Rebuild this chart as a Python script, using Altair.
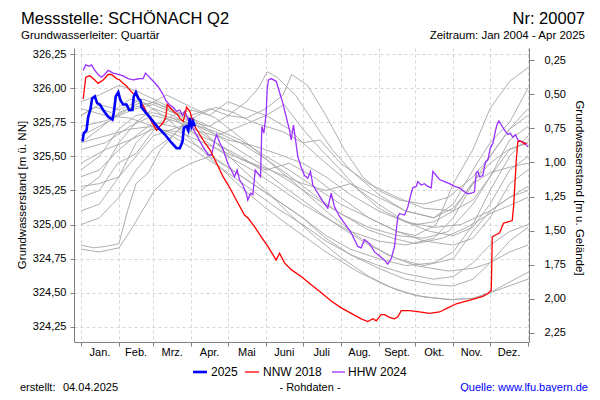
import altair as alt
import pandas as pd

GROUND = 326.456
FONT = "Liberation Sans"

MONTH_STARTS = [0, 31, 59, 90, 120, 151, 181, 212, 243, 273, 304, 334, 365]
MONTH_LABELS = ["Jan.", "Feb.", "Mrz.", "Apr.", "Mai", "Juni", "Juli", "Aug.", "Sept.", "Okt.", "Nov.", "Dez."]
LEFT_TICKS = [324.25, 324.50, 324.75, 325.00, 325.25, 325.50, 325.75, 326.00, 326.25]
RIGHT_TICKS = [0.25, 0.50, 0.75, 1.00, 1.25, 1.50, 1.75, 2.00, 2.25]

BLUE_DAYS = [1.2, 2.3, 4.5, 5.9, 7.8, 9.1, 11.3, 13.2, 15.4, 18.1, 22.2, 25.7, 26.8, 28.4, 30.4, 32.3, 34.4, 37.2,
             39.3, 42, 43.1, 44.8, 46.7, 48.6, 49.4, 52.1, 54.9, 59, 63, 68.5, 73.9, 78, 80.7, 82.9, 84, 86.2, 87.6,
             88.9, 90.2, 91.6, 92.9]
BLUE_LEVELS = [325.61, 325.67, 325.69, 325.79, 325.85, 325.925, 325.94, 325.89, 325.88, 325.84, 325.79, 325.77, 325.82,
               325.94, 325.97, 325.91, 325.88, 325.88, 325.84, 325.84, 325.94, 325.97, 325.925, 325.91, 325.86, 325.83,
               325.80, 325.755, 325.71, 325.66, 325.60, 325.56, 325.56, 325.61, 325.71, 325.72, 325.69, 325.78, 325.72,
               325.755, 325.72]

RED_DAYS = [1.8, 3.9, 7.2, 11.3, 14, 18.1, 22.2, 24.9, 29, 31.7, 34.4, 37.2, 39.9, 43.9, 46.7, 49.4, 52.1, 54.9, 57.6,
            61.7, 64.4, 67.6, 69.3, 70.4, 72.5, 75.3, 78, 80.7, 83.5, 86.2, 88.9, 90.2, 92.9, 97, 101.1, 105.2, 110.7,
            116.1, 120.2, 122.7, 128, 133.5, 136.2, 141.7, 147.2, 152.6, 159.4, 162.1, 166.2, 171.6, 179.8, 188, 196.2,
            204.3, 212.5, 220.6, 228.8, 234.2, 238.3, 241.1, 245.1, 247.8, 251.9, 256, 258.7, 261.5, 268.3, 276.4, 284.6,
            292.8, 299.5, 306.4, 314.6, 322.7, 328.1, 332.2, 335, 335.8, 337.7, 341.8, 345, 348.5, 352.1, 353.2, 355.4,
            356.7, 359.5, 362.2, 363.5]
RED_LEVELS = [325.92, 326.08, 326.09, 326.06, 326.035, 326.06, 326.10, 326.10, 326.07, 326.06, 326.035, 326.015, 325.985,
              325.95, 325.94, 325.89, 325.85, 325.80, 325.755, 325.69, 325.72, 325.755, 325.79, 325.88, 325.86, 325.83,
              325.815, 325.78, 325.755, 325.86, 325.83, 325.79, 325.72, 325.66, 325.60, 325.55, 325.45, 325.35, 325.29,
              325.25, 325.16, 325.07, 325.05, 324.985, 324.91, 324.84, 324.74, 324.79, 324.72, 324.67, 324.62, 324.56,
              324.50, 324.44, 324.39, 324.35, 324.31, 324.29, 324.31, 324.295, 324.34, 324.34, 324.32, 324.31, 324.325,
              324.37, 324.37, 324.36, 324.35, 324.36, 324.39, 324.42, 324.44, 324.46, 324.475, 324.495, 324.52, 324.91,
              324.92, 324.94, 325.01, 325.02, 325.03, 325.13, 325.47, 325.61, 325.61, 325.59, 325.60]

PURPLE_DAYS = [1.8, 3.9, 6.7, 8.6, 11.3, 14, 16.7, 19.4, 22.2, 26.3, 30.4, 34.4, 38.5, 42.6, 45.3, 48, 50.8, 52.7, 54.9,
               59, 63, 66.6, 69.3, 72, 75.3, 78, 80.7, 82.9, 84.8, 87.6, 90.2, 92.9, 97, 101.1, 103.9, 106.6, 109.3,
               110.7, 113.3, 116.1, 120.2, 122.7, 125.4, 127.5, 129.4, 132.1, 134.9, 136.2, 138.4, 140.3, 142.3, 144.4,
               146.6, 147.7, 149.3, 151.2, 152, 153.1, 155.3, 159.4, 162.1, 164.8, 167.6, 170.3, 171.6, 173.5, 175.2,
               177, 179.8, 182.5, 185.2, 187.4, 189.3, 193.4, 197.5, 201.5, 204.3, 207, 211.1, 215.2, 220.6, 226, 228.8,
               231.5, 235.6, 239.7, 243.8, 247.8, 250.5, 253.3, 256, 258.7, 260.1, 264.2, 266.9, 269.6, 271, 273.7,
               275, 277.8, 280.5, 283.2, 286, 287.3, 290.1, 292.8, 296.8, 300.9, 305, 309.1, 313.2, 315.9, 318.6,
               321.3, 322.7, 324, 325.4, 328.1, 330.3, 332.2, 334.2, 336.3, 338.5, 339.6, 341.2, 343.2, 345.9, 348.5,
               350.5, 352.6, 354.8, 356.7, 359.5, 362.2, 364.9]
PURPLE_LEVELS = [326.13, 326.17, 326.16, 326.17, 326.13, 326.10, 326.08, 326.10, 326.13, 326.11, 326.10, 326.09, 326.07,
                 326.06, 326.065, 326.07, 326.07, 326.11, 326.09, 326.05, 326.01, 325.96, 325.91, 325.88, 325.86, 325.83,
                 325.84, 325.80, 325.83, 325.77, 325.73, 325.68, 325.61, 325.55, 325.51, 325.51, 325.62, 325.66, 325.60,
                 325.55, 325.44, 325.40, 325.35, 325.40, 325.33, 325.29, 325.23, 325.18, 325.23, 325.22, 325.40, 325.375,
                 325.35, 325.72, 325.67, 325.815, 325.99, 326.06, 326.07, 326.05, 325.97, 325.89, 325.79, 325.69, 325.62,
                 325.73, 325.62, 325.50, 325.42, 325.36, 325.34, 325.39, 325.29, 325.23, 325.17, 325.12, 325.23, 325.13,
                 325.06, 325.01, 324.94, 324.84, 324.83, 324.89, 324.86, 324.80, 324.77, 324.74, 324.71, 324.75, 324.84,
                 325.06, 325.08, 325.07, 325.13, 325.23, 325.27, 325.28, 325.315, 325.29, 325.30, 325.28, 325.27, 325.39,
                 325.36, 325.33, 325.315, 325.30, 325.28, 325.27, 325.24, 325.225, 325.23, 325.24, 325.38, 325.39, 325.35,
                 325.36, 325.46, 325.475, 325.56, 325.595, 325.69, 325.73, 325.76, 325.73, 325.69, 325.66, 325.67, 325.64,
                 325.66, 325.62, 325.61, 325.60, 325.57]

G2004_D = [0, 12, 25, 40, 55, 70, 90, 110, 130, 151, 170, 190, 212, 235, 255, 273, 295, 315, 334, 350, 365]
G2004_L = [325.80, 325.86, 325.82, 325.92, 325.88, 325.95, 325.86, 325.78, 325.64, 325.48, 325.36, 325.22, 325.08,
           324.96, 324.90, 324.86, 324.90, 324.98, 325.08, 325.14, 325.20]
G2005_D = [0, 15, 30, 45, 60, 75, 90, 110, 130, 151, 175, 200, 225, 250, 273, 300, 320, 334, 350, 365]
G2005_L = [325.20, 325.25, 325.45, 325.52, 325.70, 325.78, 325.74, 325.68, 325.60, 325.48, 325.30, 325.10, 324.92,
           324.78, 324.70, 324.66, 324.68, 324.72, 324.80, 324.85]
G2006_D = [0, 10, 20, 31, 38, 45, 55, 65, 80, 95, 110, 125, 140, 151, 165, 181, 200, 220, 243, 265, 285, 304, 320,
           334, 350, 365]
G2006_L = [324.85, 324.83, 324.84, 324.86, 325.10, 325.30, 325.38, 325.55, 325.70, 325.80, 325.86, 325.82, 325.75,
           325.72, 325.68, 325.60, 325.45, 325.30, 325.15, 325.02, 324.95, 324.92, 324.98, 325.15, 325.40, 325.50]
G2007_D = [0, 20, 40, 59, 80, 100, 120, 140, 160, 181, 200, 220, 243, 265, 288, 304, 320, 334, 350, 365]
G2007_L = [325.55, 325.60, 325.72, 325.80, 325.75, 325.62, 325.50, 325.40, 325.28, 325.15, 325.05, 324.95, 324.88,
           324.85, 324.90, 325.05, 325.30, 325.50, 325.70, 325.80]
G2008_D = [0, 15, 31, 50, 70, 90, 110, 130, 151, 170, 190, 212, 235, 258, 280, 300, 320, 334, 350, 365]
G2008_L = [325.80, 325.88, 325.84, 325.92, 325.86, 325.78, 325.66, 325.54, 325.42, 325.32, 325.20, 325.08, 324.98,
           324.92, 324.90, 324.95, 325.15, 325.35, 325.62, 325.72]
G2009_D = [0, 20, 40, 60, 80, 100, 120, 140, 160, 181, 200, 220, 243, 265, 288, 310, 334, 350, 365]
G2009_L = [325.72, 325.76, 325.85, 325.90, 325.80, 325.70, 325.62, 325.58, 325.52, 325.45, 325.35, 325.22, 325.10,
           325.02, 324.98, 325.00, 325.10, 325.20, 325.28]
G2010_D = [0, 15, 31, 45, 59, 75, 90, 105, 120, 135, 151, 166, 181, 196, 212, 227, 243, 258, 273, 288, 304, 319, 334,
           349, 365]
G2010_L = [325.28, 325.30, 325.35, 325.60, 325.72, 325.80, 325.84, 325.80, 325.90, 325.85, 325.80, 325.88, 325.70,
           325.55, 325.40, 325.25, 325.12, 325.05, 325.00, 325.02, 325.10, 325.30, 325.45, 325.55, 325.60]
G2011_D = [0, 15, 31, 50, 70, 90, 110, 130, 151, 175, 200, 225, 250, 273, 300, 320, 340, 365]
G2011_L = [325.60, 325.70, 325.82, 325.90, 325.78, 325.62, 325.45, 325.28, 325.12, 324.96, 324.80, 324.66, 324.55,
           324.48, 324.45, 324.46, 324.52, 324.60]
G2012_D = [0, 15, 31, 40, 50, 60, 75, 90, 105, 120, 140, 160, 181, 200, 220, 243, 265, 288, 304, 320, 334, 350, 365]
G2012_L = [324.82, 324.80, 324.83, 324.95, 325.10, 325.25, 325.38, 325.45, 325.50, 325.42, 325.30, 325.18, 325.05,
           324.90, 324.78, 324.68, 324.60, 324.56, 324.55, 324.60, 324.72, 324.88, 324.98]
G2013_D = [0, 15, 31, 45, 59, 75, 90, 105, 120, 135, 145, 152, 160, 175, 190, 205, 220, 243, 265, 288, 304, 320, 334,
           350, 365]
G2013_L = [325.00, 325.05, 325.20, 325.40, 325.55, 325.65, 325.80, 325.85, 325.80, 325.90, 326.00, 326.12, 326.08,
           325.95, 325.75, 325.55, 325.40, 325.22, 325.10, 325.05, 325.12, 325.30, 325.38, 325.42, 325.45]
G2014_D = [0, 20, 40, 59, 80, 100, 120, 140, 160, 181, 200, 220, 243, 265, 288, 304, 320, 334, 350, 365]
G2014_L = [325.45, 325.55, 325.62, 325.70, 325.68, 325.60, 325.52, 325.45, 325.38, 325.30, 325.25, 325.30, 325.20,
           325.10, 325.05, 325.15, 325.40, 325.60, 325.75, 326.00]
G2015_D = [0, 15, 31, 45, 59, 75, 90, 110, 130, 151, 170, 190, 212, 235, 258, 280, 304, 320, 334, 350, 365]
G2015_L = [325.90, 325.95, 326.02, 325.98, 325.92, 325.85, 325.76, 325.60, 325.42, 325.25, 325.08, 324.92, 324.76,
           324.62, 324.52, 324.47, 324.45, 324.46, 324.50, 324.58, 324.65]
G2016_D = [0, 15, 31, 45, 59, 75, 90, 105, 120, 135, 151, 165, 172, 185, 200, 215, 230, 243, 260, 280, 300, 320, 334,
           350, 365]
G2016_L = [325.10, 325.15, 325.35, 325.50, 325.65, 325.70, 325.75, 325.72, 325.80, 325.78, 325.85, 325.95, 326.10,
           326.02, 325.80, 325.55, 325.35, 325.25, 325.18, 325.15, 325.20, 325.35, 325.50, 325.70, 325.85]
G2017_D = [0, 20, 40, 59, 80, 100, 120, 140, 160, 181, 200, 220, 243, 265, 288, 304, 320, 334, 350, 365]
G2017_L = [325.85, 325.80, 325.78, 325.72, 325.62, 325.50, 325.38, 325.25, 325.12, 325.00, 324.88, 324.78, 324.70,
           324.64, 324.60, 324.62, 324.72, 324.85, 324.95, 325.00]
G2019_D = [0, 15, 31, 45, 59, 75, 90, 110, 130, 151, 170, 190, 212, 235, 258, 280, 304, 320, 334, 350, 365]
G2019_L = [325.35, 325.40, 325.55, 325.65, 325.75, 325.72, 325.68, 325.60, 325.50, 325.38, 325.25, 325.12, 324.98,
           324.85, 324.75, 324.70, 324.75, 324.95, 325.10, 325.20, 325.25]
G2020_D = [0, 15, 31, 45, 59, 75, 90, 110, 130, 151, 170, 190, 212, 235, 258, 280, 304, 320, 334, 350, 365]
G2020_L = [325.25, 325.35, 325.60, 325.75, 325.85, 325.80, 325.72, 325.60, 325.48, 325.40, 325.45, 325.35, 325.20,
           325.05, 324.95, 324.88, 324.85, 324.90, 325.05, 325.30, 325.40]
G2021_D = [0, 15, 31, 45, 59, 75, 90, 110, 130, 151, 170, 181, 195, 212, 235, 258, 280, 304, 320, 334, 350, 365]
G2021_L = [325.40, 325.50, 325.70, 325.80, 325.82, 325.78, 325.70, 325.65, 325.72, 325.80, 325.70, 325.60, 325.62,
           325.45, 325.30, 325.20, 325.12, 325.10, 325.18, 325.35, 325.55, 325.60]
G2022_D = [0, 20, 40, 59, 80, 100, 120, 140, 160, 181, 200, 220, 243, 265, 288, 304, 320, 334, 350, 365]
G2022_L = [325.60, 325.65, 325.70, 325.72, 325.65, 325.55, 325.42, 325.30, 325.18, 325.05, 324.92, 324.82, 324.75,
           324.70, 324.72, 324.80, 325.00, 325.25, 325.50, 325.65]
G2023_D = [0, 15, 31, 45, 59, 75, 90, 110, 130, 151, 170, 190, 212, 235, 258, 273, 290, 304, 320, 334, 350, 365]
G2023_L = [325.65, 325.72, 325.80, 325.85, 325.88, 325.82, 325.78, 325.70, 325.62, 325.50, 325.40, 325.28, 325.15,
           325.05, 324.95, 324.92, 325.00, 325.30, 325.55, 325.85, 326.05, 326.15]

GRAY_SERIES = [
    ("2004", G2004_D, G2004_L), ("2005", G2005_D, G2005_L), ("2006", G2006_D, G2006_L),
    ("2007", G2007_D, G2007_L), ("2008", G2008_D, G2008_L), ("2009", G2009_D, G2009_L),
    ("2010", G2010_D, G2010_L), ("2011", G2011_D, G2011_L), ("2012", G2012_D, G2012_L),
    ("2013", G2013_D, G2013_L), ("2014", G2014_D, G2014_L), ("2015", G2015_D, G2015_L),
    ("2016", G2016_D, G2016_L), ("2017", G2017_D, G2017_L), ("2019", G2019_D, G2019_L),
    ("2020", G2020_D, G2020_L), ("2021", G2021_D, G2021_L), ("2022", G2022_D, G2022_L),
    ("2023", G2023_D, G2023_L),
]

# ---- build tables ----
gray_rows = []
for yr, ds, ls in GRAY_SERIES:
    for i, (d, l) in enumerate(zip(ds, ls)):
        gray_rows.append({"year": yr, "day": d, "level": l, "order": i})
df_gray = pd.DataFrame(gray_rows)
df_blue = pd.DataFrame({"day": BLUE_DAYS, "level": BLUE_LEVELS})
df_red = pd.DataFrame({"day": RED_DAYS, "level": RED_LEVELS})
df_purple = pd.DataFrame({"day": PURPLE_DAYS, "level": PURPLE_LEVELS})
month_mids = [(MONTH_STARTS[i] + MONTH_STARTS[i + 1]) / 2 for i in range(12)]
df_months = pd.DataFrame({"mid": month_mids, "label": MONTH_LABELS})

label_expr = "replace(format(datum.value, '.2f'), '.', ',')"

x_scale = alt.Scale(domain=[-5.7, 365.8], nice=False, zero=False)
y_scale = alt.Scale(domain=[324.140, 326.294], nice=False, zero=False)

x_axis = alt.Axis(values=MONTH_STARTS, labels=False, title=None, tickSize=4, grid=True,
                  gridDash=[3, 3], gridColor="#d4d4d4", domainColor="#808080", tickColor="#808080")
y_axis = alt.Axis(values=LEFT_TICKS, labelExpr=label_expr, title=None, tickSize=4, labelPadding=4,
                  grid=True, gridDash=[3, 3], gridColor="#d4d4d4", domainColor="#808080", tickColor="#808080")

X = alt.X("day:Q", scale=x_scale, axis=x_axis)
Y = alt.Y("level:Q", scale=y_scale, axis=y_axis)

gray = alt.Chart(df_gray).mark_line(color="#a6a6a6", strokeWidth=0.9).encode(
    x=X, y=Y, detail="year:N", order="order:Q")
purple = alt.Chart(df_purple).mark_line(color="#9b30ff", strokeWidth=1.3).encode(x=X, y=Y)
red = alt.Chart(df_red).mark_line(color="#ff0000", strokeWidth=1.3).encode(x=X, y=Y)
blue = alt.Chart(df_blue).mark_line(color="#0000ff", strokeWidth=2.6).encode(x=X, y=Y)

months = alt.Chart(df_months).mark_text(font=FONT, fontSize=11, baseline="middle", align="center").encode(
    x=alt.X("mid:Q", scale=x_scale, axis=x_axis), y=alt.value(305), text="label:N")

inner = alt.layer(gray, purple, red, blue, months)

right_axis = alt.Chart(df_blue).transform_calculate(depth=f"{GROUND} - datum.level").mark_line(opacity=0).encode(
    x=X,
    y=alt.Y("depth:Q", scale=alt.Scale(domain=[GROUND - 326.294, GROUND - 324.140], reverse=True, nice=False, zero=False),
            axis=alt.Axis(orient="right", values=RIGHT_TICKS, labelExpr=label_expr, title=None, tickSize=5,
                          labelPadding=10, grid=False, domainColor="#808080", tickColor="#808080")))


def txt(s, x, y, size=11, align="left", color="black", baseline="alphabetic", angle=0):
    return alt.Chart(pd.DataFrame({"t": [s]})).mark_text(
        align=align, baseline=baseline, fontSize=size, color=color, font=FONT, angle=angle
    ).encode(x=alt.value(x), y=alt.value(y), text="t:N")


def legend_line(color, x1, x2, y, w):
    return alt.Chart(pd.DataFrame({"a": [0]})).mark_rule(color=color, strokeWidth=w).encode(
        x=alt.value(x1), x2=alt.value(x2), y=alt.value(y))


texts = [
    txt("Messstelle: SCHÖNACH Q2", -53, -24, size=16.5),
    txt("Nr: 20007", 511, -24, size=16.5, align="right"),
    txt("Grundwasserleiter: Quartär", -53, -9, size=11.5),
    txt("Zeitraum: Jan 2004 - Apr 2025", 511, -9, size=11.5, align="right"),
    txt("Grundwasserstand [m ü. NN]", -51, 147, size=11.5, align="center", baseline="middle", angle=270),
    txt("Grundwasserstand [m u. Gelände]", 505, 140, size=11.5, align="center", baseline="middle", angle=90),
    legend_line("#0000ff", 119, 133, 324, 2.6),
    txt("2025", 137, 324, size=12, baseline="middle"),
    legend_line("#ff0000", 171, 185, 324, 1.3),
    txt("NNW 2018", 189, 324, size=12, baseline="middle"),
    legend_line("#9b30ff", 258, 271, 324, 1.3),
    txt("HHW 2024", 274, 324, size=12, baseline="middle"),
    txt("erstellt:", -54, 343, size=11),
    txt("04.04.2025", -11, 343, size=11),
    txt("- Rohdaten -", 236, 343, size=11, align="center"),
    txt("Quelle: www.lfu.bayern.de", 514, 343, size=11, align="right", color="#0000ff"),
]

chart = alt.layer(inner, right_axis, *texts).resolve_scale(y="independent").properties(
    width=455, height=294,
    autosize=alt.AutoSizeParams(type="none"),
    padding={"left": 66, "top": 40, "right": 63, "bottom": 50},
).configure_view(stroke=None).configure_axis(
    labelFont=FONT, labelFontSize=11, labelColor="black"
)

chart.save("out.html", embed_options={"renderer": "svg", "actions": False})
